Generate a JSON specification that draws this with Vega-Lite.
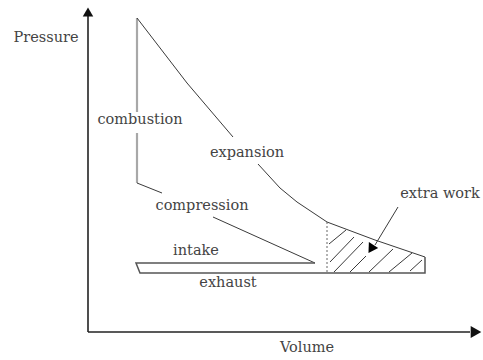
{
  "$schema": "https://vega.github.io/schema/vega-lite/v6.json",
  "width": 483,
  "height": 360,
  "padding": 0,
  "autosize": {"type": "fit", "contains": "padding"},
  "background": "white",
  "config": {"view": {"stroke": null}},
  "datasets": {
    "lines": [
      {"seg": "yaxis", "part": "axis", "o": 0, "V": 0, "P": 0},
      {"seg": "yaxis", "part": "axis", "o": 1, "V": 0, "P": 316},
      {"seg": "xaxis", "part": "axis", "o": 0, "V": 0, "P": 0},
      {"seg": "xaxis", "part": "axis", "o": 1, "V": 382, "P": 0},
      {"seg": "comb1", "part": "combustion", "o": 0, "V": 49, "P": 314},
      {"seg": "comb1", "part": "combustion", "o": 1, "V": 49, "P": 220},
      {"seg": "comb2", "part": "combustion", "o": 0, "V": 49, "P": 199},
      {"seg": "comb2", "part": "combustion", "o": 1, "V": 49, "P": 149},
      {"seg": "comp1", "part": "cycle", "o": 0, "V": 49, "P": 149},
      {"seg": "comp1", "part": "cycle", "o": 1, "V": 74, "P": 139},
      {"seg": "comp2", "part": "cycle", "o": 0, "V": 125, "P": 115},
      {"seg": "comp2", "part": "cycle", "o": 1, "V": 227, "P": 69},
      {"seg": "intex", "part": "cycle2", "o": 0, "V": 227, "P": 69},
      {"seg": "intex", "part": "cycle2", "o": 1, "V": 48, "P": 69},
      {"seg": "intex", "part": "cycle2", "o": 2, "V": 52, "P": 59},
      {"seg": "intex", "part": "cycle2", "o": 3, "V": 337, "P": 59},
      {"seg": "intex", "part": "cycle2", "o": 4, "V": 337, "P": 75},
      {"seg": "exp1", "part": "cycle", "o": 0, "V": 49, "P": 314},
      {"seg": "exp1", "part": "cycle", "o": 1, "V": 99, "P": 249},
      {"seg": "exp1", "part": "cycle", "o": 2, "V": 145, "P": 195},
      {"seg": "exp2", "part": "cycle", "o": 0, "V": 170, "P": 168},
      {"seg": "exp2", "part": "cycle", "o": 1, "V": 192, "P": 144},
      {"seg": "exp2", "part": "cycle", "o": 2, "V": 209, "P": 130},
      {"seg": "exp2", "part": "cycle", "o": 3, "V": 239, "P": 110},
      {"seg": "exp2", "part": "cycle", "o": 4, "V": 287, "P": 92},
      {"seg": "exp2", "part": "cycle", "o": 5, "V": 337, "P": 75},
      {"seg": "dot", "part": "dotted", "o": 0, "V": 239, "P": 110},
      {"seg": "dot", "part": "dotted", "o": 1, "V": 239, "P": 59},
      {"seg": "h1", "part": "hatch", "o": 0, "V": 241, "P": 88},
      {"seg": "h1", "part": "hatch", "o": 1, "V": 258, "P": 102},
      {"seg": "h2", "part": "hatch", "o": 0, "V": 242, "P": 70},
      {"seg": "h2", "part": "hatch", "o": 1, "V": 266, "P": 95},
      {"seg": "h3", "part": "hatch", "o": 0, "V": 246, "P": 60},
      {"seg": "h3", "part": "hatch", "o": 1, "V": 275, "P": 90},
      {"seg": "h4", "part": "hatch", "o": 0, "V": 262, "P": 60},
      {"seg": "h4", "part": "hatch", "o": 1, "V": 278, "P": 76},
      {"seg": "h5", "part": "hatch", "o": 0, "V": 281, "P": 60},
      {"seg": "h5", "part": "hatch", "o": 1, "V": 305, "P": 83},
      {"seg": "h6", "part": "hatch", "o": 0, "V": 301, "P": 60},
      {"seg": "h6", "part": "hatch", "o": 1, "V": 324, "P": 79},
      {"seg": "h7", "part": "hatch", "o": 0, "V": 322, "P": 61},
      {"seg": "h7", "part": "hatch", "o": 1, "V": 334, "P": 72},
      {"seg": "arrow", "part": "arrow", "o": 0, "V": 310, "P": 125},
      {"seg": "arrow", "part": "arrow", "o": 1, "V": 287, "P": 87}
    ],
    "heads": [
      {"head": "y", "V": 0, "P": 320},
      {"head": "x", "V": 388, "P": 0},
      {"head": "work", "V": 283, "P": 83}
    ],
    "labels": [
      {"label": "Pressure", "V": -42, "P": 294},
      {"label": "combustion", "V": 52, "P": 212},
      {"label": "expansion", "V": 159, "P": 179},
      {"label": "compression", "V": 114, "P": 126},
      {"label": "intake", "V": 108, "P": 81},
      {"label": "exhaust", "V": 140, "P": 49},
      {"label": "extra work", "V": 352, "P": 138},
      {"label": "Volume", "V": 219, "P": -16}
    ]
  },
  "encoding": {
    "x": {"field": "V", "type": "quantitative", "scale": {"domain": [-88, 395], "nice": false, "zero": false}, "axis": null},
    "y": {"field": "P", "type": "quantitative", "scale": {"domain": [-28, 332], "nice": false, "zero": false}, "axis": null}
  },
  "layer": [
    {
      "data": {"name": "lines"},
      "transform": [{"filter": "datum.part === 'combustion'"}],
      "mark": {"type": "line", "color": "#a8a8a8", "strokeWidth": 2.2},
      "encoding": {"detail": {"field": "seg"}, "order": {"field": "o"}}
    },
    {
      "data": {"name": "lines"},
      "transform": [{"filter": "datum.part === 'axis'"}],
      "mark": {"type": "line", "color": "#222222", "strokeWidth": 1.6},
      "encoding": {"detail": {"field": "seg"}, "order": {"field": "o"}}
    },
    {
      "data": {"name": "lines"},
      "transform": [{"filter": "datum.part === 'cycle'"}],
      "mark": {"type": "line", "color": "#3a3a3a", "strokeWidth": 1},
      "encoding": {"detail": {"field": "seg"}, "order": {"field": "o"}}
    },
    {
      "data": {"name": "lines"},
      "transform": [{"filter": "datum.part === 'cycle2'"}],
      "mark": {"type": "line", "color": "#555555", "strokeWidth": 1.5},
      "encoding": {"detail": {"field": "seg"}, "order": {"field": "o"}}
    },
    {
      "data": {"name": "lines"},
      "transform": [{"filter": "datum.part === 'dotted'"}],
      "mark": {"type": "line", "color": "#666666", "strokeWidth": 1, "strokeDash": [2, 2]},
      "encoding": {"detail": {"field": "seg"}, "order": {"field": "o"}}
    },
    {
      "data": {"name": "lines"},
      "transform": [{"filter": "datum.part === 'hatch' || datum.part === 'arrow'"}],
      "mark": {"type": "line", "color": "#3a3a3a", "strokeWidth": 1},
      "encoding": {"detail": {"field": "seg"}, "order": {"field": "o"}}
    },
    {
      "data": {"name": "heads"},
      "transform": [{"filter": "datum.head === 'y'"}],
      "mark": {"type": "point", "shape": "triangle-up", "filled": true, "color": "#111111", "size": 110, "opacity": 1}
    },
    {
      "data": {"name": "heads"},
      "transform": [{"filter": "datum.head === 'x'"}],
      "mark": {"type": "point", "shape": "triangle-right", "filled": true, "color": "#111111", "size": 150, "opacity": 1}
    },
    {
      "data": {"name": "heads"},
      "transform": [{"filter": "datum.head === 'work'"}],
      "mark": {"type": "point", "shape": "triangle-up", "angle": 212, "filled": true, "color": "#000000", "size": 120, "opacity": 1}
    },
    {
      "data": {"name": "labels"},
      "mark": {"type": "text", "font": "DejaVu Serif", "fontSize": 14.5, "color": "#444444", "align": "center", "baseline": "middle"},
      "encoding": {"text": {"field": "label"}}
    }
  ]
}
